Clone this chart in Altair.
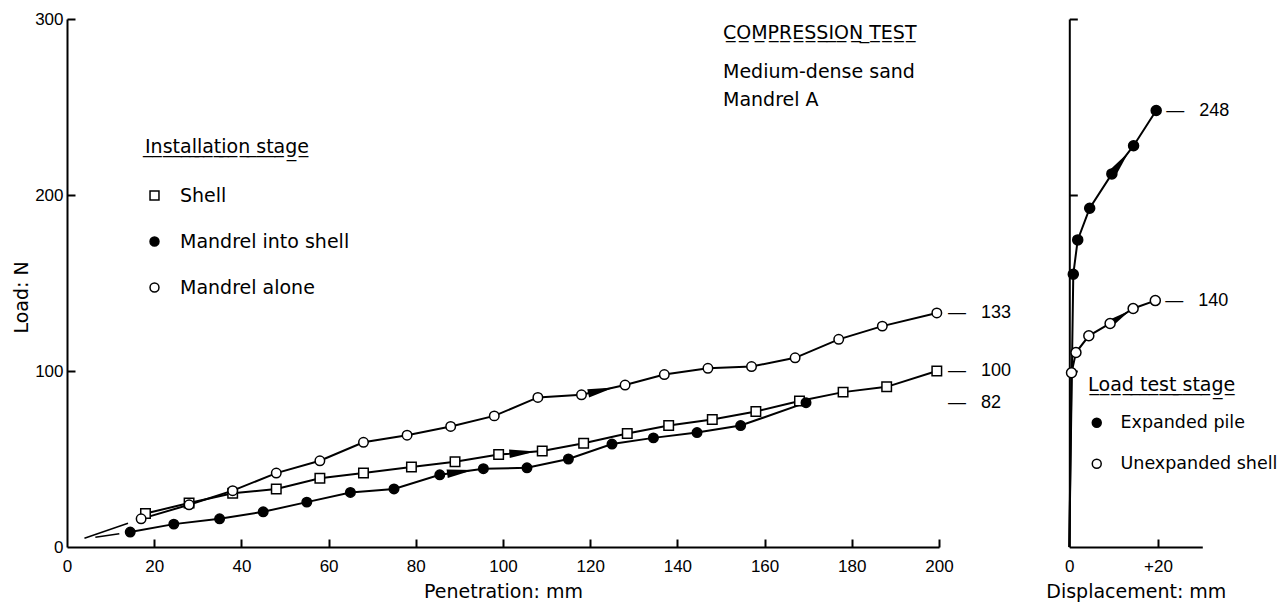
import math
import altair as alt
import pandas as pd

# ---------------- data ----------------
# Installation stage: penetration (mm) against load (N)
shell_pen = [18, 28, 38, 48, 58, 68, 79, 89, 99, 109, 118.5, 128.5, 138, 148, 158, 168, 178, 188, 199.5]
shell_load = [19, 25, 30.5, 33, 39, 42, 45.5, 48.5, 52.5, 54.5, 59, 64.5, 69, 72.5, 77, 83, 88, 91, 100]

into_pen = [14.5, 24.5, 35, 45, 55, 65, 75, 85.5, 95.5, 105.5, 115, 125, 134.5, 144.5, 154.5, 169.5]
into_load = [8.5, 13, 16, 20, 25.5, 31, 33, 41, 44.5, 45, 50, 58.5, 62, 65, 69, 82]

alone_pen = [17, 28, 38, 48, 58, 68, 78, 88, 98, 108, 118, 128, 137, 147, 157, 167, 177, 187, 199.5]
alone_load = [16, 24, 32, 42, 49, 59.5, 63.5, 68.5, 74.5, 85, 86.5, 92, 98, 101.5, 102.5, 107.5, 118, 125.5, 133]

# short extrapolations drawn toward the origin
extrap_pen = [[4, 14], [6.5, 12]]
extrap_load = [[5, 13.5], [5.5, 7.5]]

# Load test stage: displacement (mm) against load (N)
expanded_disp = [0.9, 1.9, 4.6, 9.6, 14.5, 19.6]
expanded_load = [155, 174.5, 192.5, 212, 228, 248]
unexp_disp = [0.5, 1.5, 4.4, 9.2, 14.4, 19.4]
unexp_load = [99, 110.5, 120, 127, 135.5, 140]
origin_disp, origin_load = 0, 0

install_names = ["Shell", "Mandrel into shell", "Mandrel alone"]
test_names = ["Expanded pile", "Unexpanded shell"]

# end values written beside the curves
install_end_loads = [133, 100, 82]
test_end_loads = [248, 140]

pen_ticks = [0, 20, 40, 60, 80, 100, 120, 140, 160, 180, 200]
load_ticks = [0, 100, 200, 300]
disp_ticks = [0, 20]
disp_tick_labels = ["0", "+20"]

heading_lines = ["COMPRESSION TEST", "Medium-dense sand", "Mandrel A"]

# direction arrows: (series, segment start index, fraction along segment)
install_arrows = [("Mandrel alone", 10, 0.45), ("Shell", 8, 0.55), ("Mandrel into shell", 7, 0.47)]
test_arrows = [("Expanded pile", 3, 0.4), ("Unexpanded shell", 3, 0.38)]

# ---------------- layout ----------------
PAD_L, PAD_T, PAD_B = 67, 19, 57
W, H = 1286 - PAD_L, 528
MAIN_RANGE = [0, 872]
RIGHT_RANGE = [1002.3, 1135.3]
PEN_DOMAIN = [0, 200]
DISP_DOMAIN = [0, 30]
LOAD_DOMAIN = [0, 300]
HEADING_X = 656
HEADING_Y = [19.5, 58.5, 87]

TEXT_FONT = "DejaVu Sans"
NUM_FONT = "Liberation Sans"
NUM_SIZE = 17
INK = "black"


def underline(s):
    return "".join(c + "\u0332" for c in s)


def arrow_rows(series_xy, specs, px_x, px_y):
    rows = []
    for name, i, f in specs:
        xs, ys = series_xy[name]
        x0, x1, y0, y1 = xs[i], xs[i + 1], ys[i], ys[i + 1]
        deg = math.degrees(math.atan2((y1 - y0) * px_y, (x1 - x0) * px_x))
        rows.append({"x": x0 + f * (x1 - x0), "y": y0 + f * (y1 - y0),
                     "angle": (360 - deg) % 360})
    return pd.DataFrame(rows)


install_xy = {"Shell": (shell_pen, shell_load),
              "Mandrel into shell": (into_pen, into_load),
              "Mandrel alone": (alone_pen, alone_load)}
test_xy = {"Expanded pile": (expanded_disp, expanded_load),
           "Unexpanded shell": (unexp_disp, unexp_load)}

inst_df = pd.concat([
    pd.DataFrame({"pen": xs, "load": ys, "series": name, "i": range(len(xs))})
    for name, (xs, ys) in install_xy.items()
], ignore_index=True)

extrap_df = pd.concat([
    pd.DataFrame({"pen": xs, "load": ys, "seg": k, "i": range(len(xs))})
    for k, (xs, ys) in enumerate(zip(extrap_pen, extrap_load))
], ignore_index=True)

test_pts = pd.concat([
    pd.DataFrame({"disp": xs, "load": ys, "stage": name})
    for name, (xs, ys) in test_xy.items()
], ignore_index=True)

test_lines = pd.concat([
    pd.DataFrame({"disp": [origin_disp] + xs, "load": [origin_load] + ys,
                  "stage": name, "i": range(len(xs) + 1)})
    for name, (xs, ys) in test_xy.items()
], ignore_index=True)

px_pen = (MAIN_RANGE[1] - MAIN_RANGE[0]) / (PEN_DOMAIN[1] - PEN_DOMAIN[0])
px_disp = (RIGHT_RANGE[1] - RIGHT_RANGE[0]) / (DISP_DOMAIN[1] - DISP_DOMAIN[0])
px_load = H / (LOAD_DOMAIN[1] - LOAD_DOMAIN[0])
inst_arrow_df = arrow_rows(install_xy, install_arrows, px_pen, px_load)
test_arrow_df = arrow_rows(test_xy, test_arrows, px_disp, px_load)

nb = "\u00a0"
inst_label_df = pd.DataFrame({"pen": PEN_DOMAIN[1], "load": install_end_loads,
                              "txt": [f"—{nb*3}{v}" for v in install_end_loads]})
test_label_df = pd.DataFrame({"disp": [expanded_disp[-1], unexp_disp[-1]],
                              "load": test_end_loads,
                              "txt": [f"—{nb*3}{v}" for v in test_end_loads]})

heading_df = pd.DataFrame({
    "txt": [underline(heading_lines[0])] + heading_lines[1:],
    "ypos": HEADING_Y,
})

ARROW = "M1,0L-1,-0.32L-1,0.32Z"

# ---------------- scales & axes ----------------
pen_scale = alt.Scale(domain=PEN_DOMAIN, range=MAIN_RANGE, nice=False, zero=False)
disp_scale = alt.Scale(domain=DISP_DOMAIN, range=RIGHT_RANGE, nice=False, zero=False)
load_scale = alt.Scale(domain=LOAD_DOMAIN, nice=False)

axis_common = dict(grid=False, domainColor=INK, domainWidth=2, tickColor=INK,
                   tickWidth=2, labelColor=INK, labelFont=NUM_FONT, labelFontSize=NUM_SIZE,
                   titleColor=INK, titleFont=TEXT_FONT, titleFontSize=19,
                   titleFontWeight="normal")

pen_axis = alt.Axis(orient="bottom", values=pen_ticks, tickSize=0, labelPadding=11,
                    labelFlush=False, title="Penetration: mm", titleY=44,
                    titleBaseline="middle", **axis_common)
load_axis = alt.Axis(orient="left", values=load_ticks, tickSize=0, labelPadding=4,
                     title="Load: N", titleAngle=270, titleX=-46, titleY=278,
                     titleAlign="center", titleBaseline="middle", **axis_common)
pen_ticks_axis = alt.Axis(orient="top", offset=-H, values=pen_ticks[1:], labels=False,
                          domain=False, tickSize=8, title=None, **axis_common)
load_ticks_axis = alt.Axis(orient="right", offset=-W, values=load_ticks[1:], labels=False,
                           domain=False, tickSize=8, title=None, **axis_common)

disp_expr = " : ".join(f"datum.value == {v} ? '{t}'" for v, t in zip(disp_ticks, disp_tick_labels)) + " : ''"
disp_axis = alt.Axis(orient="bottom", values=disp_ticks, tickSize=0, labelPadding=11,
                     labelExpr=disp_expr, labelFlush=False, title="Displacement: mm",
                     titleY=44, titleBaseline="middle", **axis_common)
disp_load_axis = alt.Axis(orient="right", offset=RIGHT_RANGE[0] - W, values=load_ticks[1:],
                          labels=False, tickSize=8, title=None, **axis_common)
disp_ticks_axis = alt.Axis(orient="top", offset=-H, values=disp_ticks[1:], labels=False,
                           domain=False, tickSize=8, title=None, **axis_common)

legend_common = dict(orient="none", titleFont=TEXT_FONT, titleFontSize=19,
                     titleFontWeight="normal", titleColor=INK, labelFont=TEXT_FONT,
                     labelColor=INK, labelLimit=400, titleLimit=400,
                     symbolStrokeColor=INK, symbolStrokeWidth=1.5, symbolSize=80,
                     padding=0, symbolOpacity=1)
inst_legend = alt.Legend(title=underline("Installation stage"), legendX=78, legendY=119,
                         labelFontSize=19, titlePadding=29, rowPadding=26, labelOffset=16,
                         **legend_common)
test_legend = alt.Legend(title=underline("Load test stage"), legendX=1021, legendY=357,
                         labelFontSize=17.5, titlePadding=19, rowPadding=22, labelOffset=15,
                         **legend_common)

# ---------------- installation stage ----------------
X = alt.X("pen:Q", scale=pen_scale, axis=pen_axis)
Y = alt.Y("load:Q", scale=load_scale, axis=load_axis)

inst_lines = alt.Chart(inst_df).mark_line(color=INK, strokeWidth=2).encode(
    x=X, y=Y, detail="series:N", order="i:Q")
inst_extrap = alt.Chart(extrap_df).mark_line(color=INK, strokeWidth=1.5).encode(
    x=X, y=Y, detail="seg:N", order="i:Q")
inst_arrows = alt.Chart(inst_arrow_df).mark_point(
    shape=ARROW, filled=True, color=INK, size=700, opacity=1).encode(
    x=alt.X("x:Q", scale=pen_scale, axis=pen_axis),
    y=alt.Y("y:Q", scale=load_scale, axis=load_axis),
    angle=alt.Angle("angle:Q", scale=None))
inst_points = alt.Chart(inst_df).mark_point(
    filled=True, strokeWidth=1.5, size=90, opacity=1).encode(
    x=X, y=Y,
    fill=alt.Fill("series:N", scale=alt.Scale(domain=install_names, range=["white", INK, "white"]),
                  legend=inst_legend),
    stroke=alt.Stroke("series:N", scale=alt.Scale(domain=install_names, range=[INK, INK, INK]),
                      legend=inst_legend),
    shape=alt.Shape("series:N", scale=alt.Scale(domain=install_names, range=["square", "circle", "circle"]),
                    legend=inst_legend))
main_group = alt.layer(inst_lines, inst_extrap, inst_arrows, inst_points)

inst_labels = alt.Chart(inst_label_df).mark_text(
    align="left", baseline="middle", dx=9, font=NUM_FONT, fontSize=NUM_SIZE + 1, color=INK).encode(
    x=alt.X("pen:Q", scale=pen_scale, axis=pen_ticks_axis),
    y=alt.Y("load:Q", scale=load_scale, axis=load_ticks_axis),
    text="txt:N")

# ---------------- load test stage ----------------
DX = alt.X("disp:Q", scale=disp_scale, axis=disp_axis)
DY = alt.Y("load:Q", scale=load_scale, axis=disp_load_axis)

test_line_layer = alt.Chart(test_lines).mark_line(color=INK, strokeWidth=2).encode(
    x=DX, y=DY, detail="stage:N", order="i:Q")
test_arrow_layer = alt.Chart(test_arrow_df).mark_point(
    shape=ARROW, filled=True, color=INK, size=700, opacity=1).encode(
    x=alt.X("x:Q", scale=disp_scale, axis=disp_axis),
    y=alt.Y("y:Q", scale=load_scale, axis=disp_load_axis),
    angle=alt.Angle("angle:Q", scale=None))
test_point_layer = alt.Chart(test_pts).mark_point(
    filled=True, strokeWidth=1.5, size=100, opacity=1).encode(
    x=DX, y=DY,
    fill=alt.Fill("stage:N", scale=alt.Scale(domain=test_names, range=[INK, "white"]),
                  legend=test_legend),
    stroke=alt.Stroke("stage:N", scale=alt.Scale(domain=test_names, range=[INK, INK]),
                      legend=test_legend),
    shape=alt.Shape("stage:N", scale=alt.Scale(domain=test_names, range=["circle", "circle"]),
                    legend=test_legend))
right_group = alt.layer(test_line_layer, test_arrow_layer, test_point_layer)

test_labels = alt.Chart(test_label_df).mark_text(
    align="left", baseline="middle", dx=10, font=NUM_FONT, fontSize=NUM_SIZE + 1, color=INK).encode(
    x=alt.X("disp:Q", scale=disp_scale, axis=disp_ticks_axis),
    y=alt.Y("load:Q", scale=load_scale, axis=None),
    text="txt:N")

# ---------------- heading ----------------
heading = alt.Chart(heading_df).mark_text(
    align="left", baseline="alphabetic", font=TEXT_FONT, fontSize=19, color=INK).encode(
    x=alt.value(HEADING_X),
    y=alt.Y("ypos:Q", scale=None),
    text="txt:N")

chart = alt.layer(main_group, inst_labels, right_group, test_labels, heading).resolve_scale(
    x="independent", y="independent", fill="independent", shape="independent",
    stroke="independent"
).properties(
    width=W, height=H,
    autosize=alt.AutoSizeParams(type="none"),
    padding={"left": PAD_L, "top": PAD_T, "right": 0, "bottom": PAD_B},
    background="white",
).configure_view(stroke=None)

chart.save("out.html", embed_options={"renderer": "svg", "actions": False})
